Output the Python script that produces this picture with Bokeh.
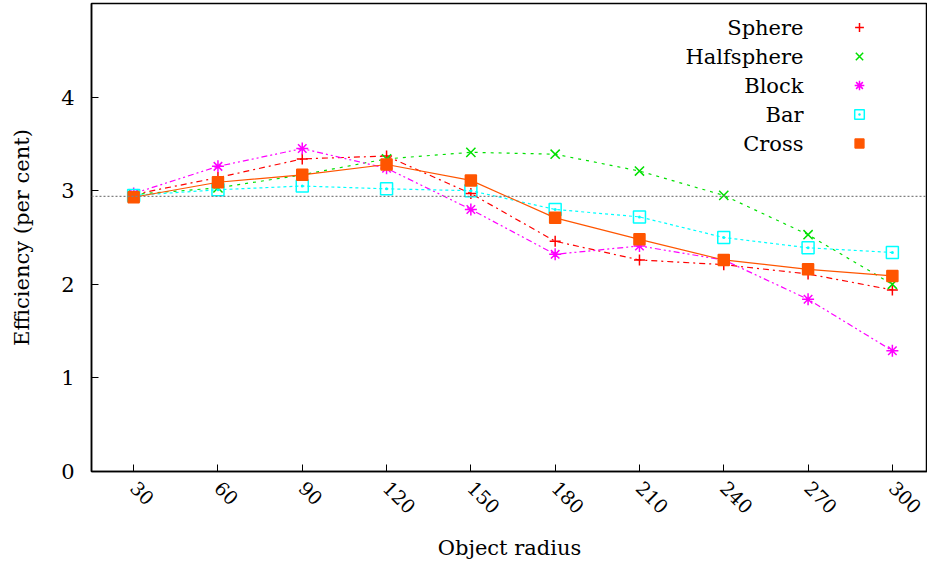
import math
from bokeh.plotting import figure
from bokeh.models import Range1d, FixedTicker, Span, ColumnDataSource
from bokeh.core.properties import value
from bokeh.embed import file_html
from bokeh.resources import INLINE

# ---- data ----
radius = [30, 60, 90, 120, 150, 180, 210, 240, 270, 300]
sphere = [2.96, 3.14, 3.34, 3.37, 2.97, 2.46, 2.26, 2.21, 2.11, 1.94]
halfsphere = [2.96, 3.03, 3.17, 3.34, 3.41, 3.39, 3.21, 2.95, 2.53, 2.00]
block = [2.97, 3.26, 3.45, 3.24, 2.80, 2.32, 2.41, 2.26, 1.84, 1.29]
bar = [2.95, 3.01, 3.05, 3.02, 3.00, 2.80, 2.72, 2.50, 2.39, 2.34]
cross = [2.93, 3.09, 3.17, 3.28, 3.11, 2.71, 2.48, 2.26, 2.16, 2.09]
reference_level = 2.94
series_names = ["Sphere", "Halfsphere", "Block", "Bar", "Cross"]
y_ticks = [0, 1, 2, 3, 4]

FONT = "DejaVu Serif"
FS = "21px"
W, H = 927, 567
L, R, T, B = 91, 0, 3, 96
X0, X1 = 15, 312.5
Y0, Y1 = 0, 5

p = figure(width=W, height=H, output_backend="svg", toolbar_location=None,
           x_range=Range1d(X0, X1), y_range=Range1d(Y0, Y1),
           min_border_left=L, min_border_right=R, min_border_top=T, min_border_bottom=B)
p.background_fill_color = "white"
p.border_fill_color = "white"
p.grid.visible = False
p.outline_line_color = "black"
p.outline_line_width = 1.5

p.xaxis.ticker = FixedTicker(ticks=radius)
p.yaxis.ticker = FixedTicker(ticks=y_ticks)
for ax in (p.xaxis[0], p.yaxis[0]):
    ax.major_tick_in = 7
    ax.major_tick_out = 0
    ax.minor_tick_line_color = None
    ax.axis_line_color = "black"
    ax.axis_line_width = 1.5
    ax.major_tick_line_color = "black"
    ax.major_tick_line_width = 1
    ax.major_label_text_font = FONT
    ax.major_label_text_font_size = FS
    ax.major_label_text_color = "black"
    ax.axis_label_text_font = FONT
    ax.axis_label_text_font_size = FS
    ax.axis_label_text_font_style = "normal"
    ax.axis_label_text_color = "black"
p.xaxis.major_label_text_font_size = "19px"
p.xaxis.major_label_orientation = -math.pi / 4
p.xaxis.axis_label = "Object radius"
p.yaxis.axis_label = "Efficiency (per cent)"
p.yaxis.major_label_standoff = 17
p.xaxis.major_label_standoff = 13
p.xaxis.axis_label_standoff = 13
p.yaxis.axis_label_standoff = 24

p.add_layout(Span(location=reference_level, dimension="width", line_color="#808080",
                  line_dash="2 2", line_width=1.2))

styles = [
    (sphere, "#ff0000", "6 4 2 4", "cross", 11, None),
    (halfsphere, "#00e000", "3 5", "x", 13, None),
    (block, "#ff00ff", "6 3 2 3 2 3", "asterisk", 12, None),
    (bar, "#00ffff", "3 3", "square_dot", 12, None),
    (cross, "#ff5500", "solid", "square", 11, "#ff5500"),
]
for ys, col, dash, marker, size, fill in styles:
    src = ColumnDataSource(dict(x=radius, y=ys))
    p.line("x", "y", source=src, line_color=col, line_width=1.2, line_dash=dash)
    p.scatter("x", "y", source=src, marker=marker, size=size, line_color=col,
              line_width=1.5, fill_color=fill)

# ---- legend (text right-aligned, sample marker to the right) ----
def px_to_x(px):
    return X0 + (px - L) * (X1 - X0) / (W - L - R)

def py_to_y(py):
    return Y1 - (py - T) * (Y1 - Y0) / (H - T - B)

row_py = [27, 56, 85, 114, 143]
leg_text = ColumnDataSource(dict(x=[px_to_x(803)] * 5, y=[py_to_y(v) for v in row_py],
                                 t=series_names))
p.text("x", "y", text="t", source=leg_text, text_align="right", text_baseline="middle",
       text_font=value(FONT), text_font_size=FS, text_color="black")
for (ys, col, dash, marker, size, fill), py in zip(styles, row_py):
    p.scatter([px_to_x(859)], [py_to_y(py)], marker=marker, size=size * 0.8,
              line_color=col, line_width=1.5, fill_color=fill)

open("out.html", "w").write(file_html(p, INLINE))
